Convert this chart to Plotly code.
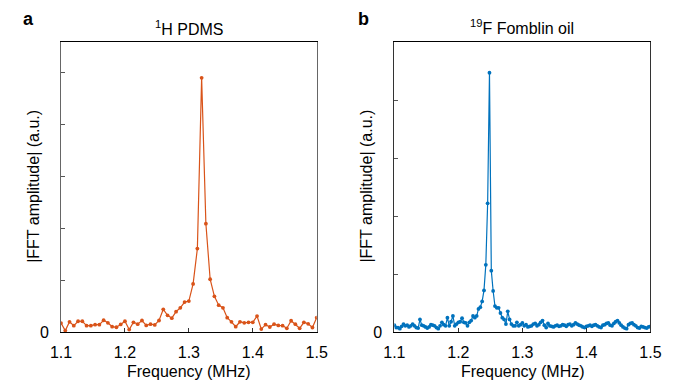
import numpy as np
import plotly.graph_objects as go

# ---- data ----
freq_h = np.linspace(1.1, 1.5, 61)
amp_h = [0.175, 0.03, 0.20, 0.125, 0.21, 0.21, 0.125, 0.125, 0.145, 0.145,
         0.23, 0.18, 0.105, 0.095, 0.15, 0.21, 0.05, 0.19, 0.155, 0.225,
         0.13, 0.155, 0.14, 0.225, 0.44, 0.325, 0.27, 0.395, 0.47, 0.58,
         0.60, 0.93, 1.61, 4.90, 2.09, 1.02, 0.69, 0.52, 0.47, 0.28,
         0.20, 0.105, 0.20, 0.18, 0.19, 0.19, 0.31, 0.06, 0.145, 0.10,
         0.155, 0.13, 0.125, 0.075, 0.22, 0.155, 0.075, 0.19, 0.16, 0.09,
         0.28]

freq_f = np.linspace(1.1, 1.5, 141)
amp_f = [0.12, 0.08, 0.08, 0.06, 0.10, 0.14, 0.11, 0.12, 0.09, 0.11,
         0.14, 0.11, 0.08, 0.07, 0.22, 0.12, 0.11, 0.09, 0.07, 0.09,
         0.13, 0.12, 0.11, 0.08, 0.06, 0.11, 0.17, 0.13, 0.11, 0.25,
         0.11, 0.18, 0.28, 0.11, 0.14, 0.17, 0.18, 0.24, 0.17, 0.16,
         0.11, 0.17, 0.20, 0.28, 0.25, 0.28, 0.40, 0.43, 0.53, 0.72,
         1.16, 2.22, 4.47, 1.06, 0.71, 0.45, 0.42, 0.42, 0.33, 0.25,
         0.22, 0.14, 0.36, 0.22, 0.14, 0.11, 0.11, 0.17, 0.11, 0.13,
         0.16, 0.11, 0.13, 0.09, 0.10, 0.11, 0.14, 0.15, 0.11, 0.13,
         0.17, 0.20, 0.12, 0.08, 0.15, 0.11, 0.10, 0.09, 0.11, 0.12,
         0.10, 0.11, 0.13, 0.12, 0.10, 0.13, 0.14, 0.11, 0.13, 0.16,
         0.14, 0.12, 0.11, 0.09, 0.08, 0.10, 0.11, 0.12, 0.10, 0.12,
         0.13, 0.11, 0.09, 0.08, 0.12, 0.13, 0.15, 0.16, 0.12, 0.11,
         0.15, 0.18, 0.20, 0.16, 0.12, 0.09, 0.07, 0.06, 0.13, 0.15,
         0.16, 0.13, 0.11, 0.08, 0.07, 0.10, 0.09, 0.08, 0.07, 0.09,
         0.10]

x_ticks = [1.1, 1.2, 1.3, 1.4, 1.5]
x_ticktext = ["1.1", "1.2", "1.3", "1.4", "1.5"]
y_label_ticks = [0]
y_label_text = ["0"]
y_minor_ticks_h = [1, 2, 3, 4, 5]
y_minor_ticks_f = [1, 2, 3, 4]
y_range_h = [0, 5.59]
y_range_f = [0, 5.0]

ORANGE = "#D95319"
BLUE = "#0072BD"
FONT = "Liberation Sans, Arial, sans-serif"

W, H = 674, 391
def px(x): return x / W
def py(y): return 1 - y / H

fig = go.Figure()
fig.add_trace(go.Scatter(x=freq_h, y=amp_h, mode="lines+markers",
                         line=dict(color=ORANGE, width=1.2),
                         marker=dict(color=ORANGE, size=3.8),
                         xaxis="x", yaxis="y", showlegend=False))
fig.add_trace(go.Scatter(x=freq_f, y=amp_f, mode="lines+markers",
                         line=dict(color=BLUE, width=1.2),
                         marker=dict(color=BLUE, size=3.8),
                         xaxis="x2", yaxis="y2", showlegend=False))

xdom1 = [px(51.7), px(316)]
xdom2 = [px(396.3), px(661)]
ydom = [py(340), py(43)]

def xax(dom, anchor):
    return dict(domain=dom, anchor=anchor, range=[1.1, 1.5],
                tickvals=x_ticks, ticktext=x_ticktext,
                ticks="inside", ticklen=4, tickcolor="#333",
                ticklabelstandoff=6,
                showline=True, linecolor="black", linewidth=1, mirror=True,
                showgrid=False, zeroline=False,
                tickfont=dict(family=FONT, size=16, color="black"))

def yax(dom, anchor, rng, minor, lc):
    return dict(domain=dom, anchor=anchor, range=rng,
                tickvals=y_label_ticks, ticktext=y_label_text,
                ticks="inside", ticklen=4, tickcolor="#555",
                ticklabelstandoff=8,
                minor=dict(tickvals=minor, ticks="inside", ticklen=4,
                           tickcolor="#555", showgrid=False),
                showline=True, linecolor=lc, linewidth=1, mirror=True,
                showgrid=False, zeroline=False,
                tickfont=dict(family=FONT, size=16, color="black"))

fig.update_layout(
    width=W, height=H,
    margin=dict(l=0, r=0, t=0, b=0),
    paper_bgcolor="white", plot_bgcolor="white",
    xaxis=xax(xdom1, "y"),
    yaxis=yax(ydom, "x", y_range_h, y_minor_ticks_h, "#666"),
    xaxis2=xax(xdom2, "y2"),
    yaxis2=yax(ydom, "x2", y_range_f, y_minor_ticks_f, "#333"),
    font=dict(family=FONT, size=16, color="black"),
)

ann = []
def add(text, x, y, size=16, angle=0, bold=False):
    ann.append(dict(text=("<b>%s</b>" % text) if bold else text,
                    x=px(x), y=py(y), xref="paper", yref="paper",
                    showarrow=False, textangle=angle,
                    xanchor="center", yanchor="middle",
                    font=dict(family=FONT, size=size, color="black")))

add("a", 18, 19, 18, bold=True)
add("b", 364, 19, 18, bold=True)
add("<sup>1</sup>H PDMS", 184, 29)
add("<sup>19</sup>F Fomblin oil", 528, 28)
add("Frequency (MHz)", 184, 380)
add("Frequency (MHz)", 529, 380)
add("|FFT amplitude| (a.u.)", 23, 191, angle=-90)
add("|FFT amplitude| (a.u.)", 368, 190, angle=-90)
fig.update_layout(annotations=ann)

fig.write_html("out.html")
